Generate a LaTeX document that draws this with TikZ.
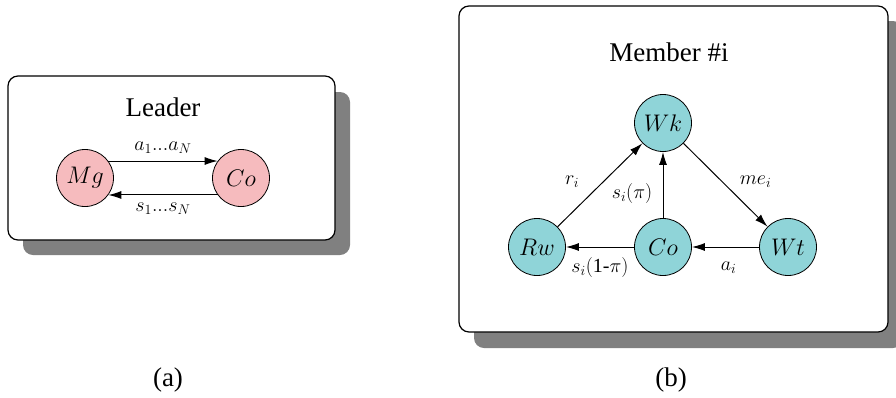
\RequirePackage{fix-cm}
\documentclass[tikz,border=0pt]{standalone}
\usepackage[no-math]{fontspec}
\setmainfont{Liberation Serif}
\usetikzlibrary{arrows.meta}
\definecolor{pinkfill}{RGB}{246,187,190}
\definecolor{tealfill}{RGB}{143,212,216}
\definecolor{shadowgray}{RGB}{128,128,128}
\tikzset{
  panel/.style={draw=black, line width=1.2pt, fill=white, rounded corners=10pt},
  panelshadow/.style={fill=shadowgray, rounded corners=10pt},
  statenode/.style={circle, draw=black, line width=0.8pt, minimum size=57pt, inner sep=0pt, font=\fontsize{24}{28}\selectfont},
  pinkstate/.style={statenode, fill=pinkfill},
  tealstate/.style={statenode, fill=tealfill},
  flow/.style={line width=1pt, -{Latex[length=13pt,width=8pt]}},
  lbl/.style={font=\fontsize{20}{24}\selectfont, inner sep=0pt},
  titletext/.style={font=\fontsize{27}{32}\selectfont, inner sep=0pt}
}
\begin{document}
\begin{tikzpicture}[x=1pt,y=-1pt]
\useasboundingbox (0,0) rectangle (896,397);
% left panel
\fill[panelshadow] (23,92) rectangle (350,255);
\draw[panel] (8,76) rectangle (335,240);
\node[titletext] (leader) at (163,107) {Leader};
\node[pinkstate] (mg) at (85,178) {$Mg$};
\node[pinkstate] (co1) at (241,178) {$Co$};
\draw[flow] (mg.36) -- node[lbl, midway, yshift=13pt] (la) {$a_1 ... a_N$} (co1.144);
\draw[flow] (co1.-144) -- node[lbl, midway, yshift=-14pt] (ls) {$s_1 ... s_N$} (mg.-36);
\node[titletext] (capa) at (168,380) {(a)};
% right panel
\fill[panelshadow] (474,21) rectangle (903,348);
\draw[panel] (459,6) rectangle (888,332);
\node[titletext] (member) at (669,52) {Member \#i};
\node[tealstate] (wk) at (663,123) {$Wk$};
\node[tealstate] (rw) at (537,247) {$Rw$};
\node[tealstate] (co2) at (663,247) {$Co$};
\node[tealstate] (wt) at (788,247) {$Wt$};
\draw[flow] (rw) -- node[lbl, midway, xshift=-28pt, yshift=3pt] (lr) {$r_i$} (wk);
\draw[flow] (co2) -- node[lbl, midway, xshift=-31pt, yshift=-8pt] (lsp) {$s_i(\pi)$} (wk);
\draw[flow] (wk) -- node[lbl, midway, xshift=30pt, yshift=3pt] (lme) {$me_i$} (wt);
\draw[flow] (co2) -- node[lbl, midway, yshift=-20pt] (lsq) {$s_i(\mbox{1-}\pi)$} (rw);
\draw[flow] (wt) -- node[lbl, midway, xshift=3pt, yshift=-21pt] (lai) {$a_i$} (co2);
\node[titletext] (capb) at (671,380) {(b)};
\end{tikzpicture}
\end{document}
